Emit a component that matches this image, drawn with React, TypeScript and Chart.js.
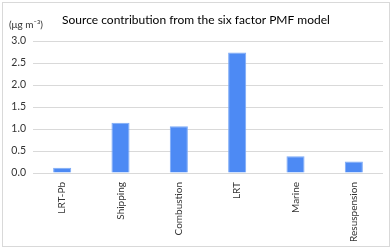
import React, { useEffect, useRef } from "react";
import { Chart, registerables } from "chart.js";

Chart.register(...registerables);

const categories = ["LRT-Pb", "Shipping", "Combustion", "LRT", "Marine", "Resuspension"];
const values = [0.12, 1.14, 1.06, 2.74, 0.38, 0.26];
const yTicks = [0, 0.5, 1.0, 1.5, 2.0, 2.5, 3.0];
const titleText = "Source contribution from the six factor PMF model";
const unitText = "(μg m⁻³)";

const FONT = "Lato, 'Open Sans', sans-serif";

export default function App() {
  const ref = useRef<HTMLCanvasElement | null>(null);
  useEffect(() => {
    document.body.style.margin = "0";
    const ctx = ref.current!.getContext("2d")!;
    const deco = {
      id: "deco",
      afterDraw(chart: any) {
        const c = chart.ctx;
        c.save();
        c.fillStyle = "#000";
        c.font = `12px ${FONT}`;
        c.textAlign = "center";
        c.textBaseline = "middle";
        c.fillText(titleText, 196, 20);
        c.font = `10px ${FONT}`;
        c.textAlign = "left";
        c.fillStyle = "#333";
        c.fillText(unitText, 9, 25);
        c.restore();
      },
    };
    const chart = new Chart(ctx, {
      type: "bar",
      data: {
        labels: categories,
        datasets: [
          {
            data: values,
            backgroundColor: "rgb(77,138,244)",
            borderColor: "rgb(125,170,246)",
            borderWidth: 1,
            categoryPercentage: 1,
            barPercentage: 0.31,
          },
        ],
      },
      options: {
        animation: false,
        responsive: false,
        layout: { padding: { top: 41, right: 9, left: 0, bottom: 0 } },
        plugins: { legend: { display: false }, tooltip: { enabled: false }, title: { display: false } },
        scales: {
          x: {
            grid: { display: false },
            border: { display: false },
            ticks: {
              minRotation: 90,
              maxRotation: 90,
              color: "#333",
              font: { family: FONT, size: 10 },
              padding: 1,
            },
            afterFit: (s: any) => {
              s.height = 76;
            },
          },
          y: {
            min: 0,
            max: 3,
            afterBuildTicks: (s: any) => {
              s.ticks = yTicks.map((v) => ({ value: v }));
            },
            grid: { color: "#d9d9d9", drawTicks: false },
            border: { display: false },
            ticks: {
              color: "#333",
              font: { family: FONT, size: 10.5 },
              padding: 7,
              callback: (v: any) => Number(v).toFixed(1),
            },
            afterFit: (s: any) => {
              s.width = 33;
            },
          },
        },
      },
      plugins: [deco],
    });
    return () => chart.destroy();
  }, []);
  return (
    <div style={{ position: "relative", width: 392, height: 249 }}>
      <canvas ref={ref} width={392} height={249} style={{ display: "block" }} />
      <div
        style={{
          position: "absolute",
          left: 2,
          top: 2,
          width: 386,
          height: 243,
          border: "1px solid #d9d9d9",
          pointerEvents: "none",
        }}
      />
    </div>
  );
}
